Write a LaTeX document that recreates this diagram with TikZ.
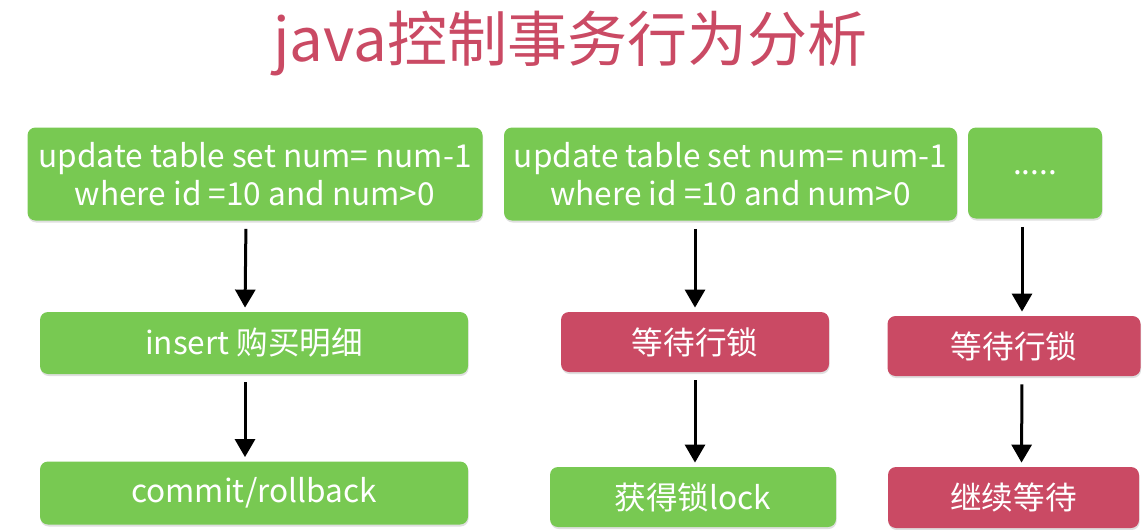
\documentclass[tikz,border=0pt]{standalone}
\usepackage{fontspec}
\newfontfamily\cjk{Noto Sans CJK SC}
\usetikzlibrary{arrows.meta,shadows}
\definecolor{boxgreen}{RGB}{120,201,82}
\definecolor{boxred}{RGB}{202,74,100}
\begin{document}
\begin{tikzpicture}[
	x = 0.5pt, y = -0.5pt,
	every node/.style = {font = \cjk, text = white, align = center},
	box/.style = {shape = rectangle, rounded corners = 4pt, inner sep = 0pt,
		font = \cjk\fontsize{15.8}{19}\selectfont,
		drop shadow = {shadow xshift = 0.3pt, shadow yshift = -1pt, opacity = 0.25}},
	ok/.style = {box, fill = boxgreen},
	wait/.style = {box, fill = boxred},
	arr/.style = {-{Triangle[length = 9pt, width = 10pt]}, line width = 1.5pt,
		shorten < = 4pt, shorten > = 2pt}
	]
	\useasboundingbox (0,0) rectangle (1146,530);

	% title
	\node[text = boxred, font = \cjk\fontsize{30}{34}\selectfont] (title) at (570,44) {java控制事务行为分析};

	% left column
	\node[ok, minimum width = 227.5pt, minimum height = 46.5pt] (a1) at (255,174)
		{update table set num= num-1\\ where id =10 and num>0};
	\node[ok, minimum width = 214pt, minimum height = 31pt] (a2) at (254,343) {insert 购买明细};
	\node[ok, minimum width = 214pt, minimum height = 31.5pt] (a3) at (254,493) {commit/rollback};

	% middle column
	\node[ok, minimum width = 226.5pt, minimum height = 46.5pt] (b1) at (730.5,174)
		{update table set num= num-1\\ where id =10 and num>0};
	\node[wait, minimum width = 134pt, minimum height = 30pt] (b2) at (695,342) {等待行锁};
	\node[ok, minimum width = 143pt, minimum height = 30pt] (b3) at (693,497) {获得锁lock};

	% right column
	\node[ok, minimum width = 67pt, minimum height = 45.5pt] (c1) at (1035,173) {.....};
	\node[wait, minimum width = 126.5pt, minimum height = 30pt] (c2) at (1014,346) {等待行锁};
	\node[wait, minimum width = 125.5pt, minimum height = 30.5pt] (c3) at (1013.5,497.5) {继续等待};

	\draw[arr] ([xshift = -4.5pt]a1.south) -- ([xshift = -4.5pt]a2.north);
	\draw[arr] ([xshift = -4.5pt]a2.south) -- ([xshift = -4.5pt]a3.north);
	\draw[arr] (b1.south -| b2.north) -- (b2.north);
	\draw[arr] (b2.south) -- (b2.south |- b3.north);
	\draw[arr] ([xshift = 4pt]c2.north |- c1.south) -- ([xshift = 4pt]c2.north);
	\draw[arr] ([xshift = 4pt]c2.south) -- ([xshift = 4pt]c3.north);
\end{tikzpicture}
\end{document}
